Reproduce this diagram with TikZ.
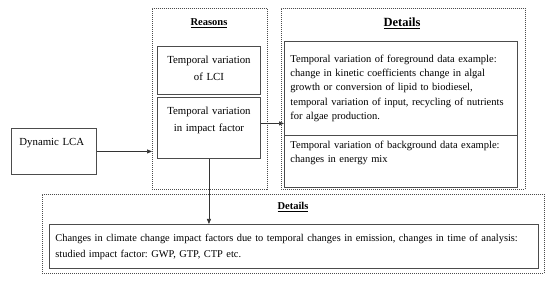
\documentclass[tikz,border=0pt]{standalone}
\usepackage{fontspec}
\setmainfont{Liberation Serif}
\usetikzlibrary{arrows.meta}
\frenchspacing

\begin{document}
\begin{tikzpicture}[x=1pt,y=-1pt,>={Triangle[length=5pt,width=4pt]},
    box/.style={draw=black!70,line width=0.9pt,anchor=north west,inner ysep=0pt,inner xsep=8pt},
    group/.style={draw=black!70,line width=0.6pt,dash pattern=on 1pt off 1pt,anchor=north west,inner sep=0pt},
    title/.style={anchor=base,font=\bfseries\fontsize{10.5}{12}\selectfont},
    txt/.style={font=\fontsize{10.8}{16.7}\selectfont},
    conn/.style={draw=black!80,line width=0.7pt}]
  \useasboundingbox (0,0) rectangle (550,283);
  % dashed groups
  \node[group,minimum width=115pt,minimum height=181pt] (reasons) at (152,8) {};
  \node[group,minimum width=244pt,minimum height=181pt] (details) at (281,8) {};
  \node[group,minimum width=502pt,minimum height=79pt] (impdet) at (42,194) {};
  % titles
  \node[title] (rtitle) at (209,26) {\underline{Reasons}};
  \node[title,font=\bfseries\fontsize{12.5}{14}\selectfont] (dtitle) at (402,26.5) {\underline{Details}};
  \node[title] (btitle) at (293,210) {\underline{Details}};
  % boxes
  \node[box,txt,text width=69pt,align=left,text height=17pt,text depth=29pt] (dyn) at (11,128) {Dynamic LCA};
  \node[box,txt,inner xsep=4pt,text width=95pt,align=center,text height=17pt,text depth=31pt] (lci) at (157,46) {Temporal variation\\of LCI};
  \node[box,txt,inner xsep=4pt,text width=95pt,align=center,text height=17pt,text depth=44pt] (imp) at (157,97) {Temporal variation\\in impact factor};
  \node[box,inner xsep=6pt,font=\fontsize{10.5}{14.2}\selectfont,text width=221pt,align=left,text height=21pt,text depth=73pt] (fg) at (284,41)
    {Temporal variation of foreground data example:\\change in kinetic coefficients change in algal\\growth or conversion of lipid to biodiesel,\\temporal variation of input, recycling of nutrients\\for algae production.};
  \node[box,inner xsep=6pt,font=\fontsize{10.5}{14.2}\selectfont,text width=221pt,align=left,text height=13pt,text depth=39pt] (bg) at (284,135)
    {Temporal variation of background data example:\\changes in energy mix};
  \node[box,inner xsep=6pt,font=\fontsize{10.4}{16}\selectfont,text width=477pt,align=left,text height=17pt,text depth=27pt] (emis) at (49,224)
    {Changes in climate change impact factors due to temporal changes in emission, changes in time of analysis:\\studied impact factor: GWP, GTP, CTP etc.};
  % connectors
  \draw[conn,->] (dyn.east) -- (dyn.east -| reasons.west);
  \draw[conn,->] ([yshift=4.5pt]imp.east) -- ([yshift=4.5pt]imp.east -| fg.west);
  \draw[conn,->] (imp.south) -- (imp.south |- emis.north);
\end{tikzpicture}
\end{document}
